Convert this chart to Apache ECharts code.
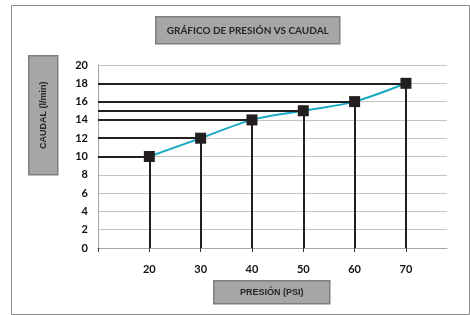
<!DOCTYPE html>
<html>
<head>
<meta charset="utf-8">
<script src="https://cdn.jsdelivr.net/npm/echarts@6/dist/echarts.min.js"></script>
<style>
  html, body { margin: 0; padding: 0; background: #fff; }
  #chart { width: 470px; height: 315px; }
</style>
</head>
<body>
<div id="chart"></div>
<script>
  // data
  var presion = [20, 30, 40, 50, 60, 70]
  var caudal = [10, 12, 14, 15, 16, 18]
  var yTicks = [0, 2, 4, 6, 8, 10, 12, 14, 16, 18, 20]
  var xLabels = [20, 30, 40, 50, 60, 70]

  var xMin = 10
  var points = presion.map(function (p, i) { return [p, caudal[i]] })

  // guide lines: from y axis to point, then from point down to x axis
  var guides = []
  points.forEach(function (pt) {
    guides.push([{ coord: [xMin, pt[1]] }, { coord: [pt[0], pt[1]] }])
    guides.push([{ coord: [pt[0], pt[1]] }, { coord: [pt[0], 0] }])
  })

  var chart = echarts.init(document.getElementById('chart'))
  var boxFill = '#a6a6a6'
  var boxLine = '#7f7f7f'

  chart.setOption({
    animation: false,
    backgroundColor: '#fff',
    grid: { left: 98, right: 23, top: 65, bottom: 67 },
    graphic: [
      {
        type: 'rect', left: 9, top: 3,
        shape: { width: 458, height: 309 },
        style: { fill: 'none', stroke: '#8c8c8c', lineWidth: 1 }
      },
      {
        type: 'group', left: 155, top: 16,
        children: [
          { type: 'rect', shape: { width: 184, height: 27 }, style: { fill: boxFill, stroke: boxLine, lineWidth: 1.5 } },
          { type: 'text', x: 92, y: 14, style: { text: 'GRÁFICO DE PRESIÓN VS CAUDAL', font: 'bold 10px Lato', fill: '#262626', align: 'center', verticalAlign: 'middle' } }
        ]
      },
      {
        type: 'group', left: 28, top: 55,
        children: [
          { type: 'rect', shape: { width: 29, height: 119 }, style: { fill: boxFill, stroke: boxLine, lineWidth: 1.5 } },
          { type: 'text', x: 14.5, y: 59.5, rotation: Math.PI / 2, style: { text: 'CAUDAL (l/min)', font: 'bold 9px "Liberation Sans"', fill: '#262626', align: 'center', verticalAlign: 'middle' } }
        ]
      },
      {
        type: 'group', left: 213, top: 280,
        children: [
          { type: 'rect', shape: { width: 116, height: 23 }, style: { fill: boxFill, stroke: boxLine, lineWidth: 1.5 } },
          { type: 'text', x: 58, y: 12, style: { text: 'PRESIÓN (PSI)', font: 'bold 9px "Liberation Sans"', fill: '#262626', align: 'center', verticalAlign: 'middle' } }
        ]
      }
    ],
    xAxis: {
      type: 'value',
      min: xMin,
      max: 78,
      interval: 10,
      axisLine: { show: true, lineStyle: { color: '#a6a6a6', width: 1 } },
      axisTick: { show: true, length: 4, lineStyle: { color: '#333', width: 1 } },
      splitLine: { show: false },
      axisLabel: {
        margin: 16,
        fontFamily: 'Lato', fontWeight: 'bold', fontSize: 11, color: '#111',
        showMaxLabel: false,
        formatter: function (v) { return xLabels.indexOf(v) >= 0 ? String(v) : '' }
      }
    },
    yAxis: {
      type: 'value',
      min: yTicks[0],
      max: yTicks[yTicks.length - 1],
      interval: 2,
      axisLine: { show: true, lineStyle: { color: '#a6a6a6', width: 1 } },
      axisTick: { show: false },
      splitLine: { show: true, lineStyle: { color: '#c4c4c4', width: 1 } },
      axisLabel: { margin: 10, fontFamily: 'Lato', fontWeight: 'bold', fontSize: 11, color: '#111' }
    },
    series: [
      {
        name: 'guias',
        type: 'line',
        data: [],
        z: 1,
        markLine: {
          silent: true,
          symbol: 'none',
          label: { show: false },
          lineStyle: { color: '#231f20', width: 2, type: 'solid' },
          data: guides
        }
      },
      {
        name: 'caudal',
        type: 'line',
        data: points,
        smooth: 0.3,
        z: 3,
        symbol: 'rect',
        symbolSize: 11,
        itemStyle: { color: '#231f20' },
        lineStyle: { color: '#17a9c3', width: 2 }
      }
    ]
  })
</script>
</body>
</html>
